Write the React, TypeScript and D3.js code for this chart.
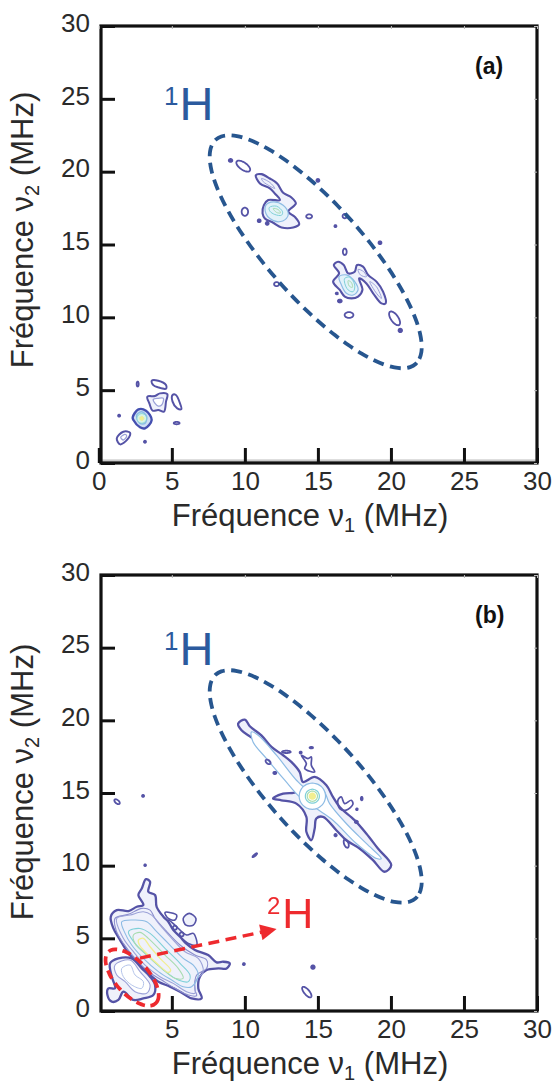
import { useEffect, useRef } from "react";
import * as d3 from "d3";

type Pt = number[];
// cx, cy, rx, ry, angle (MHz, degrees)
type Oval = number[];

const xTicksA = [0, 5, 10, 15, 20, 25, 30];
const xTicksB = [5, 10, 15, 20, 25, 30];
const yTicks = [0, 5, 10, 15, 20, 25, 30];

const PURPLE = "#5452a6";
const LAVENDER = "#9ca2d8";
const BLUE = "#8dbbe4";
const CYAN = "#7fd0d8";
const GREEN = "#a8dcb0";
const YELLOW = "#f2ee90";
const PALE = "#eff1fb";

// ---- panel (a) contours ----
const a1Outer: Pt[] = [[10.75,19.76],[11.03,19.19],[11.71,18.85],[12.05,18.5],[12.4,18.05],[11.6,18.05],[11.3,17.7],[11.21,17.13],[11.37,16.79],[11.94,16.49],[12.51,16.17],[13.31,16.17],[13.72,16.4],[13.42,16.9],[12.97,17.26],[13.49,17.82],[13.19,18.23],[12.62,18.55],[12.21,19.19],[11.71,19.53],[11.14,19.83]];
const a1Mid: Pt[] = [[11.44,17.7],[11.94,17.93],[12.62,17.7],[12.97,17.13],[12.85,16.79],[12.28,16.56],[11.71,16.79],[11.44,17.13]];
const a1Lobe: Pt[] = [[11.14,19.53],[11.71,19.26],[12.05,18.85],[11.71,19.01],[11.26,19.31]];
const a1Cyan: Pt[] = [[11.67,17.54],[12.17,17.63],[12.58,17.24],[12.51,17.01],[12.05,17.06],[11.71,17.29]];
const a1Green: Pt[] = [[11.94,17.47],[12.28,17.4],[12.44,17.17],[12.17,17.2]];

const a2Outer: Pt[] = [[16.09,13.59],[16.38,13.82],[16.77,13.59],[17.07,13.02],[17.52,13.13],[17.68,13.59],[18.09,13.48],[18.44,12.91],[19.01,12.45],[19.46,11.76],[19.64,10.96],[19.35,10.96],[18.78,11.65],[18.32,12.33],[17.82,12.68],[18.05,11.88],[17.75,11.42],[17.3,11.3],[16.84,11.42],[16.5,11.88],[16.04,12.45],[16.45,13.02]];
const a2Mid: Pt[] = [[16.45,12.79],[16.95,12.91],[17.52,12.45],[17.75,11.88],[17.41,11.53],[16.95,11.65],[16.61,12.22]];
const a2Lobe: Pt[] = [[17.75,13.29],[18.14,13.13],[18.32,12.79],[17.91,12.91]];
const a2Tail: Pt[] = [[18.55,12.45],[19.01,12.1],[19.35,11.3],[19.01,11.65]];
const a2Cyan: Pt[] = [[16.84,12.68],[17.18,12.75],[17.52,12.22],[17.41,11.76],[17.07,11.88],[16.84,12.33]];
const a2Green: Pt[] = [[17.07,12.52],[17.3,12.38],[17.36,12.06],[17.14,12.15]];

const lowBand: Pt[] = [[3.62,5.65],[4.07,5.65],[4.6,5.35],[4.6,5.1],[4.07,5.19],[3.73,5.35]];
const lowCross: Pt[] = [[3.32,4.55],[3.85,4.6],[4.19,4.78],[4.69,4.73],[4.6,4.21],[4.46,3.52],[4.07,3.64],[3.69,3.59],[3.46,4.09]];
const lowCrossIn: Pt[] = [[3.73,4.37],[4.07,4.44],[4.42,4.44],[4.3,3.98],[4.07,3.91],[3.85,4.09]];
const lowSide: Pt[] = [[5.05,4.67],[5.28,4.67],[5.56,4.09],[5.65,3.7],[5.37,3.75],[5.05,4.21]];
const lowPeak: Pt[] = [[2.32,3.13],[2.71,3.68],[3.23,3.59],[3.62,2.95],[3.16,2.38],[2.82,2.45],[2.37,2.95]];
const lowPeakIn: Pt[] = [[2.59,3.29],[2.94,3.52],[3.28,3.18],[3.16,2.72],[2.82,2.72]];
const lowRing: Pt[] = [[1.23,1.69],[1.68,2.15],[2.14,2.08],[1.96,1.62],[1.46,1.28]];
const lowRingIn: Pt[] = [[1.5,1.76],[1.8,1.96],[1.91,1.85],[1.68,1.58]];
const lowCoreCyan: Oval = [2.94,3.06,.33,.33,0];
const lowCoreYellow: Oval = [2.94,3.06,.13,.13,0];

const ovalsA: Oval[] = [[9.02,20.77,.12,.1,0],[9.89,20.38,.55,.25,-35],[10,17.25,.28,.22,90],[10.98,16.63,.1,.1,0],[11.53,16.45,.1,.1,0],[14.4,16.93,.2,.14,0],[15,19.4,.1,.1,0],[16.84,16.95,.15,.15,0],[16.84,14.5,.13,.22,0],[19.25,15.12,.1,.1,0],[12.17,12.28,.17,.14,0],[17.13,10.16,.3,.2,0],[20.25,9.93,.55,.25,-55],[20.64,9.1,.12,.12,0],[16.3,11.64,.08,.06,0],[16.5,11.12,.13,.1,0],[5.33,2.74,.2,.08,0],[2.66,5.42,.07,.17,0],[1.39,3.25,.07,.07,0],[3.16,1.46,.07,.07,0],[16.2,16.26,.07,.07,0]];

// ---- panel (b) contours ----
const bLine: Pt[] = [[9.54,19.77],[10,20.05],[10.34,19.59],[11.13,18.97],[11.82,18.17],[12.62,17.6],[13.18,17.14],[13.75,16.45],[13.98,15.76],[14.78,16.11],[15.58,15.53],[16.03,14.73],[16.49,14.04],[17.51,13.13],[18.31,12.21],[19.11,11.18],[20.02,10.04],[19.56,9.58],[18.77,10.38],[17.85,11.18],[16.94,11.75],[16.26,12.44],[15.35,13.36],[14.89,13.24],[14.78,12.56],[14.55,11.75],[14.21,12.33],[14.21,13.36],[13.53,14.27],[12.5,14.5],[11.93,14.62],[12.62,14.96],[13.53,15.08],[13.64,15.53],[12.84,16.22],[12.05,17.02],[11.25,17.94],[10.56,18.74],[9.77,19.31]];
const bLineIn: Pt[] = [[10.45,19.2],[10.91,18.97],[12.16,17.6],[13.53,15.88],[14.21,15.3],[15.35,15.19],[15.8,14.27],[16.94,12.9],[18.31,11.53],[19.34,10.49],[19.03,10.49],[17.63,11.53],[16.03,13.13],[14.89,13.93],[13.75,14.73],[12.73,15.88],[11.48,17.37],[10.56,18.51]];
const bHook1: Pt[] = [[13.87,17.6],[14.32,17.37],[14.55,17.48],[14.55,16.91],[14.78,16.45],[14.1,16.68],[14.21,17.02]];
const bHook2: Pt[] = [[16.37,14.5],[16.6,14.73],[16.83,14.27],[17.28,14.5],[17.4,14.23],[16.94,13.82],[16.49,13.93]];

const dOuter: Pt[] = [[2.94,8.43],[3.23,9.07],[3.51,8.89],[3.39,8.2],[3.85,7.98],[3.96,7.17],[4.42,6.49],[4.76,6.14],[5.1,5.57],[5.56,5.11],[5.97,4.65],[6.58,4.2],[7.49,3.85],[8.06,3.35],[8.52,3.39],[8.97,3.28],[8.75,2.93],[8.18,2.93],[7.38,2.82],[6.92,2.36],[6.81,1.56],[7.04,.87],[6.35,.87],[5.56,1.33],[4.87,1.68],[4.08,2.02],[3.51,2.48],[2.82,3.16],[2.03,3.97],[1.46,4.88],[1,5.68],[.82,6.49],[1.23,6.94],[2.03,6.88],[2.6,7.17],[3.05,7.29],[2.71,7.98]];
const dPale: Pt[] = [[1.11,6.37],[2.03,6.65],[2.94,7.06],[3.51,6.94],[3.85,6.37],[4.65,5.46],[5.56,4.54],[6.58,3.85],[7.38,3.51],[7.38,2.93],[6.7,2.48],[6.58,1.45],[6.7,1.06],[6.13,1.1],[5.21,1.56],[4.3,2.13],[3.39,2.71],[2.48,3.62],[1.68,4.65],[1.18,5.57]];
const dLavender: Pt[] = [[1.23,6.37],[2.14,6.6],[3.05,6.83],[3.62,6.6],[4.19,5.91],[4.99,5],[5.9,4.08],[6.81,3.62],[7.15,2.71],[6.58,2.02],[6.58,1.22],[6.01,1.33],[5.1,1.9],[4.19,2.36],[3.28,3.05],[2.37,4.08],[1.68,5]];
const dBlue: Pt[] = [[1.57,6.14],[2.48,6.26],[3.28,6.14],[3.96,5.46],[4.87,4.54],[5.78,3.62],[6.47,3.16],[6.81,2.48],[6.35,1.67],[5.78,1.67],[4.99,2.13],[4.08,2.71],[3.05,3.62],[2.25,4.54],[1.8,5.34]];
const dCyan: Pt[] = [[2.03,5.46],[2.82,5.68],[3.51,5.34],[4.53,4.31],[5.56,3.28],[6.24,2.48],[6.13,2.02],[5.44,2.13],[4.42,2.82],[3.28,3.85],[2.48,4.65]];
const dGreen: Pt[] = [[2.37,5.23],[2.82,5.41],[3.39,5],[4.53,3.85],[5.44,2.93],[5.78,2.25],[5.21,2.25],[4.19,3.05],[3.16,3.97],[2.48,4.65]];
const dYellow: Pt[] = [[2.71,4.88],[3.05,5],[3.51,4.42],[4.19,3.62],[4.92,2.82],[4.76,2.66],[3.96,3.28],[3.16,4.08],[2.78,4.54]];
const dBlob1: Pt[] = [[4.53,6.78],[5.33,6.6],[5.21,6.26],[4.76,6.37]];
const dBlob2: Pt[] = [[5.78,6.37],[6.19,6.72],[6.65,6.37],[6.47,5.91],[5.97,5.91]];
const dBlob3: Pt[] = [[4.76,6.26],[5.21,5.91],[6.01,5.23],[6.47,5.34],[6.7,4.54],[6.13,4.65],[5.44,5.23],[4.92,5.68]];
const dLow: Pt[] = [[.66,1.56],[1.11,1.56],[.89,2.36],[.77,3.28],[1.34,3.62],[2.25,3.62],[2.94,2.93],[3.51,2.36],[3.85,1.79],[3.73,1.1],[3.05,.87],[2.37,.76],[1.68,1.33],[1.34,.76],[.89,.64],[.59,1.1]];
const dLowIn: Pt[] = [[1.11,3.16],[2.14,3.51],[2.82,2.71],[3.51,1.79],[3.28,1.22],[2.48,1.33],[1.8,2.02],[1.23,2.48]];
const dLowIn2: Pt[] = [[1.57,2.93],[2.14,3.16],[2.48,2.48],[3.05,2.02],[2.94,1.56],[2.25,1.79],[1.68,2.36]];

const ovalsB: Oval[] = [[12.84,17.83,.3,.08,0],[14.55,18.12,.12,.05,0],[13.82,17.78,.07,.07,0],[12.05,16.38,.1,.08,0],[11.59,17.14,.2,.12,-40],[18,14.62,.06,.12,0],[17.67,13.88,.06,.06,0],[17.63,13.01,.1,.08,0],[16.94,11.52,.15,.3,20],[16.21,12.1,.08,.08,0],[10.68,10.72,.2,.05,40],[1.25,14.4,.22,.12,-40],[3.03,14.8,.07,.07,0],[3.17,10.03,.06,.06,0],[9.93,3.23,.07,.07,0],[14.66,3.02,.12,.12,0],[14.24,1.3,.45,.18,-50],[5.21,5.73,.14,.14,0],[5.67,5.27,.14,.14,0]];

const centreRings: Oval[] = [[14.62,14.78,.9,.9,0],[14.62,14.78,.48,.48,0],[14.62,14.78,.35,.35,0]];
const centreCore: Oval = [14.62,14.78,.25,.25,0];

// dashed regions: cx, cy, semi-major, semi-minor, angle
const ring1HA: Oval = [14.85,14.5,10.3,3.25,-48.4];
const ring1HB: Oval = [14.85,15.45,10.3,3.25,-48.4];
const ring2H: Oval = [2.28,2.3,2.4,1.15,-48];
const arrow2H: Pt[] = [[2.82,3.64],[11.2,5.44]];

const FONT = "'Liberation Sans', Arial, sans-serif";
const TEXT = "#2a2a2a";

const xScale = d3.scaleLinear().domain([0.15, 30]).range([101, 537]);

const ovalPoints = ([cx, cy, a, b, deg]: Oval): Pt[] => {
  const th = (deg * Math.PI) / 180;
  return d3.range(0, 48).map((i) => {
    const t = (i / 48) * 2 * Math.PI;
    return [
      cx + a * Math.cos(t) * Math.cos(th) - b * Math.sin(t) * Math.sin(th),
      cy + a * Math.cos(t) * Math.sin(th) + b * Math.sin(t) * Math.cos(th),
    ];
  });
};

type Shape = { pts: Pt[]; color: string; width: number; fill?: string };

type PanelProps = {
  top: number;
  bottom: number;
  xTicks: number[];
  letter: string;
  ring: Oval;
  shapes: Shape[];
  ovals: Oval[];
  baseBand: boolean;
  nucleusY: number;
  titleY: number;
  children?: (y: d3.ScaleLinear<number, number>) => React.ReactNode;
};

function Panel({ top, bottom, xTicks, letter, ring, shapes, ovals, baseBand, nucleusY, titleY, children }: PanelProps) {
  const axes = useRef<SVGGElement>(null);
  const y = d3.scaleLinear().domain([0, 30]).range([bottom, top]);
  const x = xScale;
  const contour = d3.line<Pt>().x((d) => x(d[0])).y((d) => y(d[1])).curve(d3.curveCatmullRomClosed.alpha(0.5));

  useEffect(() => {
    if (!axes.current) return;
    const g = d3.select(axes.current);
    g.selectAll("*").remove();

    const bottomAxis = g.append("g").attr("transform", `translate(0,${bottom})`)
      .call(d3.axisBottom(x).tickValues(xTicks).tickSizeInner(-15).tickSizeOuter(0).tickFormat(d3.format("d")));
    const leftAxis = g.append("g").attr("transform", "translate(101,0)")
      .call(d3.axisLeft(y).tickValues(yTicks).tickSizeInner(-14).tickSizeOuter(0).tickFormat(d3.format("d")));
    const topAxis = g.append("g").attr("transform", `translate(0,${top})`)
      .call(d3.axisTop(x).tickValues(xTicks).tickSizeInner(-3).tickSizeOuter(0).tickFormat(() => ""));
    const rightAxis = g.append("g").attr("transform", "translate(537,0)")
      .call(d3.axisRight(y).tickValues(yTicks).tickSizeInner(-3).tickSizeOuter(0).tickFormat(() => ""));

    [bottomAxis, leftAxis, topAxis, rightAxis].forEach((a) => a.select(".domain").remove());
    [bottomAxis, leftAxis].forEach((a) => {
      a.selectAll(".tick line").attr("stroke", "#111").attr("stroke-width", 3);
      a.selectAll("text").attr("font-family", FONT).attr("font-size", 26).attr("fill", TEXT);
    });
    [topAxis, rightAxis].forEach((a) => a.selectAll(".tick line").attr("stroke", "#bbb").attr("stroke-width", 1));
    bottomAxis.selectAll("text").attr("dy", "0").attr("y", 27);
    leftAxis.selectAll("text").attr("x", -11).attr("dy", "0.32em").attr("transform", "translate(0,-3)");
  }, []);

  return (
    <g>
      {baseBand && <rect x={101} y={y(0.25)} width={436} height={y(0) - y(0.25)} fill="#ccc" />}
      <g filter="url(#soft)" fill="none" strokeLinejoin="round">
        {shapes.map((s, i) => (
          <path key={i} d={contour(s.pts) ?? ""} stroke={s.color} strokeWidth={s.width} fill={s.fill ?? "none"} />
        ))}
        {ovals.map((o, i) => (
          <path
            key={i}
            d={contour(ovalPoints(o)) ?? ""}
            stroke={PURPLE}
            strokeWidth={1.8}
            fill={o[2] < 0.14 && o[3] < 0.14 ? PURPLE : "none"}
          />
        ))}
        {children && children(y)}
      </g>
      <path d={contour(ovalPoints(ring)) ?? ""} fill="none" stroke="#27568f" strokeWidth={3.8} strokeDasharray="11 6.5" />
      <rect x={101} y={top} width={436} height={bottom - top} fill="none" stroke="#111" strokeWidth={3.2} />
      <g ref={axes} />
      <text x={475} y={top + 48} fontFamily={FONT} fontWeight="bold" fontSize={23} fill="#111">{letter}</text>
      <text x={164} y={nucleusY} fontFamily={FONT} fontSize={47} fill="#2b5a9e">
        <tspan fontSize={26} dy={-15}>1</tspan>
        <tspan dy={15} dx={1}>H</tspan>
      </text>
      <text x={310} y={bottom + 63} textAnchor="middle" fontFamily={FONT} fontSize={31} fill={TEXT}>
        Fréquence ν<tspan fontSize={20} dy={6}>1</tspan><tspan dy={-6}> (MHz)</tspan>
      </text>
      <text transform={`translate(33,${titleY}) rotate(-90)`} textAnchor="middle" fontFamily={FONT} fontSize={31} fill={TEXT}>
        Fréquence ν<tspan fontSize={20} dy={6}>2</tspan><tspan dy={-6}> (MHz)</tspan>
      </text>
    </g>
  );
}

const shapesA: Shape[] = [
  { pts: a1Outer, color: PURPLE, width: 2.1, fill: PALE },
  { pts: a1Mid, color: BLUE, width: 1.2, fill: "#e2f2fa" },
  { pts: a1Lobe, color: LAVENDER, width: 1 },
  { pts: a1Cyan, color: CYAN, width: 1 },
  { pts: a1Green, color: GREEN, width: 1 },
  { pts: a2Outer, color: PURPLE, width: 2.1, fill: PALE },
  { pts: a2Mid, color: BLUE, width: 1.2, fill: "#e2f2fa" },
  { pts: a2Lobe, color: LAVENDER, width: 1 },
  { pts: a2Tail, color: LAVENDER, width: 1 },
  { pts: a2Cyan, color: CYAN, width: 1 },
  { pts: a2Green, color: GREEN, width: 1 },
  { pts: lowBand, color: PURPLE, width: 2 },
  { pts: lowCross, color: PURPLE, width: 2, fill: PALE },
  { pts: lowCrossIn, color: LAVENDER, width: 1.3, fill: "#ffffff" },
  { pts: lowSide, color: PURPLE, width: 2 },
  { pts: lowPeak, color: "#4450b0", width: 2.4, fill: "#cfe0f4" },
  { pts: lowPeakIn, color: BLUE, width: 1.4, fill: "#c4ecf0" },
  { pts: ovalPoints(lowCoreCyan), color: CYAN, width: 1, fill: "#d8f4e4" },
  { pts: ovalPoints(lowCoreYellow), color: YELLOW, width: 1, fill: YELLOW },
  { pts: lowRing, color: PURPLE, width: 2 },
  { pts: lowRingIn, color: LAVENDER, width: 1.3 },
];

const shapesB: Shape[] = [
  { pts: bLine, color: PURPLE, width: 2.3, fill: PALE },
  { pts: bLineIn, color: BLUE, width: 1.2, fill: "#ffffff" },
  { pts: bHook1, color: PURPLE, width: 1.7 },
  { pts: bHook2, color: PURPLE, width: 1.7 },
  { pts: dBlob1, color: PURPLE, width: 1.6 },
  { pts: dBlob2, color: PURPLE, width: 1.6, fill: PALE },
  { pts: dBlob3, color: PURPLE, width: 1.6, fill: PALE },
  { pts: dOuter, color: PURPLE, width: 2.3, fill: PALE },
  { pts: dPale, color: "#8a8ccc", width: 1.1 },
  { pts: dLavender, color: LAVENDER, width: 1.1 },
  { pts: dBlue, color: BLUE, width: 1.1 },
  { pts: dCyan, color: CYAN, width: 1.1 },
  { pts: dGreen, color: GREEN, width: 1.1 },
  { pts: dYellow, color: YELLOW, width: 1.3 },
  { pts: dLow, color: PURPLE, width: 2.3, fill: PALE },
  { pts: dLowIn, color: LAVENDER, width: 1.1, fill: "#ffffff" },
  { pts: dLowIn2, color: "#b4c4ea", width: 1 },
  ...centreRings.map((o, i) => ({ pts: ovalPoints(o), color: [BLUE, CYAN, GREEN][i], width: 1.2, fill: "#ffffff" })),
];

export default function App() {
  return (
    <svg width={552} height={1084} style={{ position: "absolute", left: 0, top: 0, background: "#fff" }}>
      <defs>
        <filter id="soft" x="-5%" y="-5%" width="110%" height="110%">
          <feGaussianBlur stdDeviation="0.35" />
        </filter>
        <marker id="head" viewBox="0 0 10 10" refX="1" refY="5" markerWidth="5" markerHeight="4.6" markerUnits="strokeWidth" orient="auto">
          <path d="M0,0 L10,5 L0,10 Z" fill="#ee2a2e" />
        </marker>
      </defs>
      <Panel top={26} bottom={463} xTicks={xTicksA} letter="(a)" ring={ring1HA} shapes={shapesA} ovals={ovalsA} baseBand nucleusY={120} titleY={230} />
      <Panel
        top={575}
        bottom={1011}
        xTicks={xTicksB}
        letter="(b)"
        ring={ring1HB}
        shapes={shapesB}
        ovals={ovalsB}
        baseBand={false}
        nucleusY={665}
        titleY={782}
        children={(y) => {
          const straight = d3.line<Pt>().x((d) => xScale(d[0])).y((d) => y(d[1]));
          const closed = d3.line<Pt>().x((d) => xScale(d[0])).y((d) => y(d[1])).curve(d3.curveCatmullRomClosed);
          return (
            <>
              <path d={closed(ovalPoints(centreCore)) ?? ""} fill={YELLOW} stroke="none" />
              <g filter="none">
                <path d={closed(ovalPoints(ring2H)) ?? ""} stroke="#ee2a2e" strokeWidth={3.7} strokeDasharray="9 5.5" />
                <path d={straight(arrow2H) ?? ""} stroke="#ee2a2e" strokeWidth={3.5} strokeDasharray="11 6.5" markerEnd="url(#head)" />
              </g>
              <text x={267} y={928} fontFamily={FONT} fontSize={43} fill="#ee2a2e" stroke="none">
                <tspan fontSize={24} dy={-14}>2</tspan>
                <tspan dy={14} dx={2}>H</tspan>
              </text>
            </>
          );
        }}
      />
    </svg>
  );
}
